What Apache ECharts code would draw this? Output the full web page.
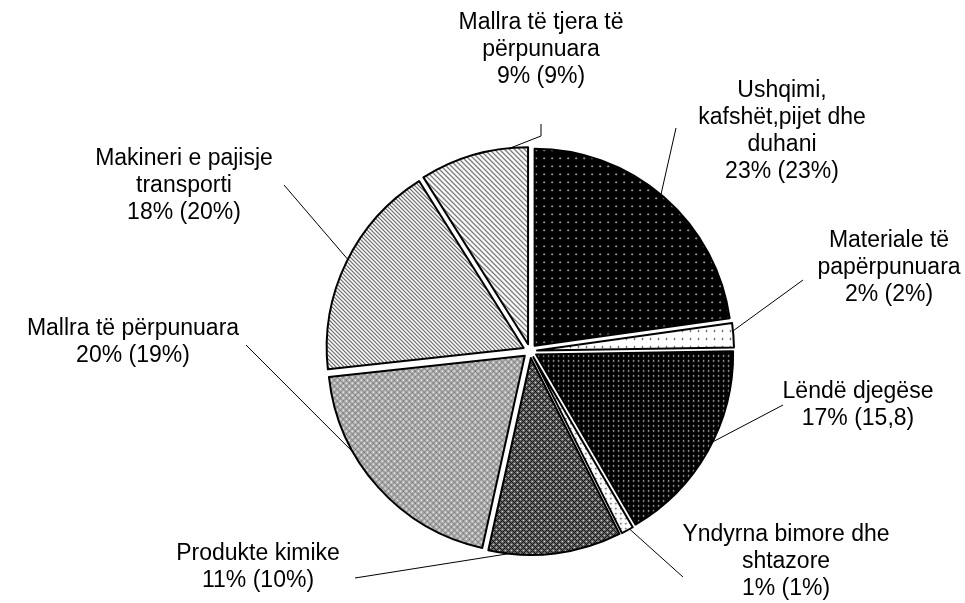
<!DOCTYPE html>
<html>
<head>
<meta charset="utf-8">
<script src="https://cdn.jsdelivr.net/npm/echarts@6/dist/echarts.min.js"></script>
<style>
  html, body { margin: 0; padding: 0; background: #fff; }
  #chart { width: 965px; height: 603px; }
</style>
</head>
<body>
<div id="chart"></div>
<script>
// ---- data ----
var categories = [
  'Ushqimi,\nkafshët,pijet dhe\nduhani',
  'Materiale të\npapërpunuara',
  'Lëndë djegëse',
  'Yndyrna bimore dhe\nshtazore',
  'Produkte kimike',
  'Mallra të përpunuara',
  'Makineri e pajisje\ntransporti',
  'Mallra të tjera të\npërpunuara'
];
var shares = [23, 2, 17, 1, 11, 20, 18, 9];
var previousShares = ['23%', '2%', '15,8', '1%', '10%', '19%', '20%', '9%'];

// ---- layout (label centres and leader-line label ends) ----
var labelCentres = [[782,131],[889,268],[858,405],[786,562],[258,567],[133,342],[184,186],[541,50]];
var leaderEnds = [
  [[676,128]], [[803,280]], [[783,405]], [[683,577]],
  [[355,578]], [[246,345]], [[284,185]], [[541,136],[541,124]]
];

// ---- patterns ----
function makeTile(w, h, fn) {
  var c = document.createElement('canvas');
  c.width = w; c.height = h;
  var ctx = c.getContext('2d');
  var img = ctx.createImageData(w, h);
  for (var y = 0; y < h; y++) {
    for (var x = 0; x < w; x++) {
      var v = fn(x, y);
      var i = (y * w + x) * 4;
      img.data[i] = v; img.data[i+1] = v; img.data[i+2] = v; img.data[i+3] = 255;
    }
  }
  ctx.putImageData(img, 0, 0);
  return { image: c, repeat: 'repeat' };
}
function dot(cx, cy, on, near, bg) {
  return function (x, y) {
    if (x === cx && y === cy) return on;
    if ((Math.abs(x - cx) + Math.abs(y - cy)) === 1) return near;
    return bg;
  };
}
var patterns = [
  makeTile(8, 8, dot(3, 3, 255, 70, 0)),
  makeTile(8, 8, dot(3, 3, 40, 190, 255)),
  makeTile(5, 5, dot(2, 2, 230, 60, 0)),
  makeTile(5, 5, dot(2, 2, 60, 200, 255)),
  makeTile(6, 6, function (x, y) {
    var a = (x + y) % 6, b = (x - y + 6) % 6;
    if (a === 0 && b === 0) return 0;
    if (a === 3 && b === 3) return 225;
    if (a === 0 || b === 0) return 15;
    return 105;
  }),
  makeTile(6, 6, function (x, y) {
    var a = (x + y) % 6, b = (x - y + 6) % 6;
    if (a === 0 && b === 0) return 70;
    if (a === 3 && b === 3) return 255;
    if (a === 0 || b === 0) return 130;
    return 185;
  }),
  makeTile(4, 4, function (x, y) {
    var d = (x - y + 8) % 4;
    return d === 0 ? 95 : (d === 1 ? 170 : 255);
  }),
  makeTile(5, 5, function (x, y) {
    var d = (x - y + 10) % 5;
    return d === 0 ? 90 : (d === 1 ? 165 : 255);
  })
];

var CENTER = [530, 351];
var RADIUS = 197;

var chart = echarts.init(document.getElementById('chart'), null, { renderer: 'canvas' });

var sliceItems = categories.map(function (name, i) {
  return {
    name: name, value: shares[i], selected: true,
    itemStyle: { color: patterns[i], borderColor: '#000', borderWidth: 2 }
  };
});
var labelItems = categories.map(function (name, i) {
  return { name: name, value: shares[i] };
});

chart.setOption({
  backgroundColor: '#fff',
  animation: false,
  series: [{
    type: 'pie',
    center: CENTER,
    radius: RADIUS,
    startAngle: 90,
    clockwise: true,
    selectedMode: 'multiple',
    selectedOffset: 7,
    emphasis: { disabled: true },
    select: { itemStyle: { borderColor: '#000', borderWidth: 2 } },
    label: { show: false },
    labelLine: { show: false },
    silent: true,
    data: sliceItems
  }, {
    type: 'pie',
    center: CENTER,
    radius: RADIUS,
    startAngle: 90,
    clockwise: true,
    silent: true,
    avoidLabelOverlap: false,
    emphasis: { disabled: true },
    itemStyle: { color: 'rgba(0,0,0,0)', borderWidth: 0 },
    label: {
      show: true,
      position: 'outside',
      color: '#000',
      fontFamily: 'Liberation Sans, Arial, sans-serif',
      fontSize: 23,
      lineHeight: 27,
      align: 'center',
      formatter: function (p) {
        return p.name + '\n' + p.value + '% (' + previousShares[p.dataIndex] + ')';
      }
    },
    labelLine: { show: true, length: 10, length2: 10, lineStyle: { color: '#000', width: 1 } },
    labelLayout: function (params) {
      var c = labelCentres[params.dataIndex];
      var pts = [params.labelLinePoints ? params.labelLinePoints[0] : c].concat(leaderEnds[params.dataIndex]);
      return { x: c[0], y: c[1], align: 'center', verticalAlign: 'middle', labelLinePoints: pts };
    },
    data: labelItems
  }]
});
</script>
</body>
</html>
